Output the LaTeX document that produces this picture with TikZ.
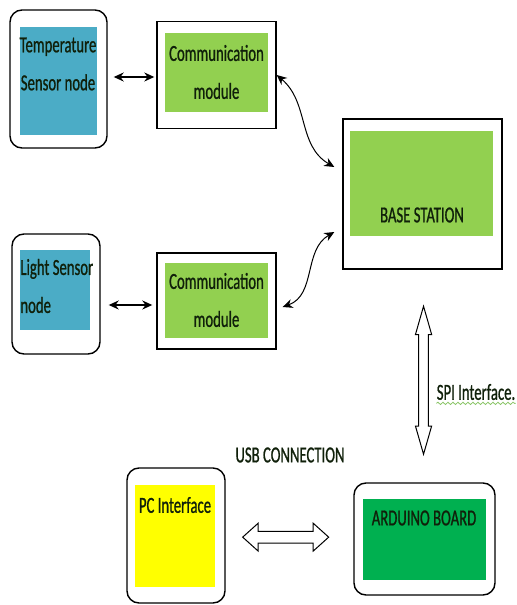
\documentclass[tikz,border=0pt]{standalone}
\usepackage{fontspec}
\setmainfont{Carlito}[FakeStretch=0.64,FakeBold=0.8]
\usepackage{tikz}
\usetikzlibrary{arrows.meta,positioning,shapes.arrows,decorations.pathmorphing}
\definecolor{SensorBlue}{HTML}{4BACC6}
\definecolor{ModGreen}{HTML}{92D050}
\definecolor{BoardGreen}{HTML}{00B050}
\definecolor{PcYellow}{HTML}{FFFF00}
\definecolor{SpellGreen}{HTML}{8CC66A}
\definecolor{TextDark}{HTML}{10200A}
\tikzset{
  rbox/.style      = {draw, line width=0.7pt, fill=white, rounded corners=6pt},
  sbox/.style      = {draw, line width=0.7pt, fill=white},
  inbox/.style     = {draw=none, inner sep=0pt},
  txt/.style       = {font=\fontsize{11.5}{19}\selectfont, text=TextDark, align=center, inner sep=0pt},
  link/.style      = {{Stealth[length=5pt,width=4.5pt]}-{Stealth[length=5pt,width=4.5pt]}, line width=0.7pt},
  curvelink/.style = {{Stealth[length=5pt,width=4.5pt]}-{Stealth[length=5pt,width=4.5pt]}, line width=0.5pt},
  hollow/.style    = {double arrow, draw, line width=0.5pt, fill=white},
}
\begin{document}
\begin{tikzpicture}[x=0.5pt,y=0.5pt]
  \useasboundingbox (0,0) rectangle (516,-605);
  % sensor side
  \node[rbox, minimum width=48.5pt, minimum height=69pt] (tempout) at (58.5,-79) {};
  \node[inbox, fill=SensorBlue, minimum width=38.5pt, minimum height=54pt] (tempin) at (58.5,-81) {};
  \node[txt] (temptxt) at (58,-64) {Temperature\\Sensor node};
  \node[rbox, minimum width=44pt, minimum height=60pt] (lightout) at (56,-294) {};
  \node[inbox, fill=SensorBlue, minimum width=35pt, minimum height=40pt] (lightin) at (55,-290) {};
  \node[txt, align=left, anchor=west] (lighttxt) at (20,-286) {Light Sensor\\node};
  % communication modules
  \node[sbox, minimum width=59.5pt, minimum height=53.5pt] (comm1out) at (216.5,-75) {};
  \node[inbox, fill=ModGreen, minimum width=51.5pt, minimum height=39.5pt] (comm1in) at (216.5,-72.5) {};
  \node[txt] (comm1txt) at (216.5,-72) {Communication\\module};
  \node[sbox, minimum width=59.5pt, minimum height=48pt] (comm2out) at (216.5,-301) {};
  \node[inbox, fill=ModGreen, minimum width=51.5pt, minimum height=37.5pt] (comm2in) at (216.5,-300.5) {};
  \node[txt] (comm2txt) at (216.5,-300) {Communication\\module};
  % base station
  \node[sbox, minimum width=79.5pt, minimum height=75pt] (baseout) at (422.5,-194) {};
  \node[inbox, fill=ModGreen, minimum width=71.5pt, minimum height=52.5pt] (basein) at (421.5,-183.5) {};
  \node[txt] (basetxt) at (422,-215) {BASE STATION};
  % pc and arduino
  \node[rbox, minimum width=49pt, minimum height=67.5pt] (pcout) at (176,-535.5) {};
  \node[inbox, fill=PcYellow, minimum width=40pt, minimum height=51pt] (pcin) at (175,-536) {};
  \node[txt] (pctxt) at (175,-505) {PC Interface};
  \node[rbox, minimum width=70.5pt, minimum height=56pt] (ardout) at (424.5,-539) {};
  \node[inbox, fill=BoardGreen, minimum width=61.5pt, minimum height=40.5pt] (ardin) at (424.5,-539.5) {};
  \node[txt] (ardtxt) at (424,-518) {ARDUINO BOARD};

  \draw[link, shorten <=3pt, shorten >=1pt] ([yshift=1pt]tempout.east) -- ([yshift=1pt]tempout.east -| comm1out.west);
  \draw[link, shorten <=4pt, shorten >=2pt] ([yshift=-5.5pt]lightout.east) -- ([yshift=-5.5pt]lightout.east -| comm2out.west);
  \draw[curvelink] (comm1out.east) to[out=-40, in=150] ([yshift=13.5pt, xshift=-4pt]baseout.west);
  \draw[curvelink] ([yshift=-19pt, xshift=-4pt]baseout.west) to[out=-150, in=20] ([yshift=-3pt, xshift=3pt]comm2out.east);

  \path (baseout.south) -- node[hollow, pos=0.52, inner sep=2.2pt, minimum height=74pt,
    double arrow head extend=1.6pt, double arrow tip angle=32, shape border rotate=90] (spi) {} (ardout.north);
  \path (pcout.east) -- node[hollow, pos=0.47, inner sep=2.7pt, minimum height=43pt,
    double arrow head extend=4pt, double arrow tip angle=84] (usb) {} (ardout.west);
  \node[txt] (spilbl) at (476,-392) {SPI Interface.};
  \draw[decorate, decoration={snake, amplitude=0.6pt, segment length=2.5pt}, SpellGreen, line width=0.4pt]
    ([yshift=-1.5pt]spilbl.south west) -- ([yshift=-1.5pt]spilbl.south east);
  \node[txt] (usblbl) at (290,-455) {USB CONNECTION};
\end{tikzpicture}
\end{document}
